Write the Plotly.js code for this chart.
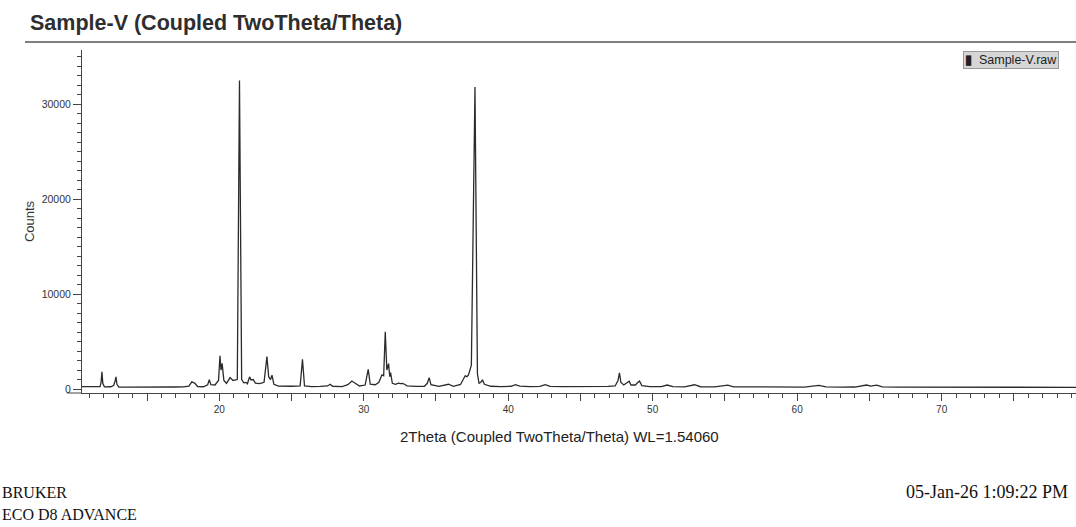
<!DOCTYPE html>
<html>
<head>
<meta charset="utf-8">
<script src="https://cdn.plot.ly/plotly-3.0.1.min.js"></script>
<style>
html,body{margin:0;padding:0;background:#fff;overflow:hidden;}
#chart{width:1076px;height:527px;}
</style>
</head>
<body>
<div id="chart"></div>
<script>
const two_theta = [
10.5,11.0,11.5,11.75,11.82,11.88,11.94,12.05,12.5,12.7,12.8,12.85,12.92,13.05,13.6,14.2,14.8,15.5,16.2,16.9,
17.5,17.9,18.1,18.3,18.5,18.9,19.2,19.31,19.42,19.7,19.95,20.05,20.12,20.2,20.32,20.5,20.75,20.95,21.25,21.4,
21.55,21.7,21.85,21.95,22.02,22.1,22.2,22.35,22.5,22.8,23.1,23.3,23.42,23.55,23.65,23.78,24.1,24.6,25.0,25.6,
25.76,25.9,26.4,27.0,27.5,27.68,27.85,28.5,28.9,29.18,29.4,29.7,30.1,30.31,30.45,30.8,31.05,31.26,31.38,31.49,
31.6,31.72,31.8,31.86,31.98,32.2,32.4,32.55,32.7,33.0,33.6,34.2,34.4,34.53,34.65,35.2,35.87,36.2,36.7,36.95,
37.02,37.15,37.25,37.45,37.7,37.87,37.98,38.1,38.22,38.35,38.8,39.5,40.2,40.5,40.8,41.5,42.2,42.56,42.9,43.8,
44.5,45.3,46.2,46.9,47.4,47.6,47.7,47.8,48.0,48.25,48.37,48.5,48.8,48.95,49.09,49.25,49.8,50.6,51.0,51.4,
52.2,52.9,53.3,54.3,55.2,55.6,56.5,57.5,58.5,59.5,60.5,61.5,62.0,63.0,64.0,64.8,65.1,65.5,65.9,67.0,
68.5,70.0,71.5,73.0,74.5,76.0,77.5,79.3
];
const counts = [
260,240,220,260,700,1800,600,230,240,400,900,1280,500,210,190,180,200,170,190,210,
220,300,760,620,260,240,450,970,450,420,900,3490,2000,2700,900,600,1200,900,1000,32500,
1000,650,700,550,900,1280,950,1000,620,560,700,3410,1300,1000,1450,500,310,280,290,340,
3130,330,260,270,320,500,290,260,450,840,600,320,420,2080,500,450,700,1490,1400,6040,
2000,2680,1300,1730,600,500,610,560,600,340,280,290,600,1200,450,280,500,290,480,1200,
1390,1300,1490,2500,31800,1600,600,700,970,500,290,260,290,450,300,260,280,450,270,250,
240,260,250,280,320,900,1700,700,420,650,830,420,420,650,830,360,260,250,420,250,
230,450,240,220,400,230,220,210,200,210,200,380,220,200,210,420,300,400,220,200,
190,200,180,190,180,190,170,180
];

const series_name = "Sample-V.raw";
const x_tick_vals = [15,20,25,30,35,40,45,50,55,60,65,70,75];
const x_tick_text = ["","20","","30","","40","","50","","60","","70",""];
const y_tick_vals = [0,10000,20000,30000];
const y_tick_text = ["0","10000","20000","30000"];

const chartTitle = "Sample-V (Coupled TwoTheta/Theta)";
const xTitle = "2Theta (Coupled TwoTheta/Theta) WL=1.54060";
const yTitle = "Counts";
const footerLeft1 = "BRUKER";
const footerLeft2 = "ECO D8 ADVANCE";
const footerRight = "05-Jan-26 1:09:22 PM";

const W = 1076, H = 527, ML = 82, MR = 0, MT = 50, MB = 134;
const PW = W - ML - MR, PH = H - MT - MB;
const px = v => (v - ML) / PW;
const py = v => (H - MB - v) / PH;

const sans = "Liberation Sans, Arial, sans-serif";
const serif = "Liberation Serif, Times New Roman, serif";

const trace = {
  x: two_theta, y: counts, type: "scatter", mode: "lines",
  name: series_name, showlegend: false,
  line: {color: "#2b2b2b", width: 1.3}
};

const layout = {
  width: W, height: H,
  margin: {l: ML, r: MR, t: MT, b: MB, pad: 0},
  paper_bgcolor: "#fff", plot_bgcolor: "#fff",
  title: {
    text: "<b>" + chartTitle + "</b>",
    x: 30 / W, xanchor: "left", xref: "container",
    y: 1 - 22 / H, yanchor: "middle", yref: "container",
    font: {family: sans, size: 21.5, color: "#2e2e2e"}
  },
  xaxis: {
    range: [10.5, 79.3],
    showgrid: false, zeroline: false,
    showline: true, linecolor: "#444", linewidth: 1,
    ticks: "outside", ticklen: 7, tickwidth: 1, tickcolor: "#444",
    tickmode: "array", tickvals: x_tick_vals, ticktext: x_tick_text,
    tickfont: {family: sans, size: 10, color: "#333"},
    minor: {tickmode: "linear", tick0: 0, dtick: 1, ticks: "outside", ticklen: 4, tickwidth: 1, tickcolor: "#444"},
    fixedrange: true
  },
  yaxis: {
    range: [-420, 35700],
    showgrid: false, zeroline: false,
    showline: true, linecolor: "#444", linewidth: 1,
    ticks: "outside", ticklen: 8, tickwidth: 1, tickcolor: "#444",
    tickmode: "array", tickvals: y_tick_vals, ticktext: y_tick_text,
    tickfont: {family: sans, size: 10.5, color: "#333"},
    minor: {tickmode: "linear", tick0: 0, dtick: 1000, ticks: "outside", ticklen: 4, tickwidth: 1, tickcolor: "#444"},
    title: {text: yTitle, font: {family: sans, size: 13, color: "#333"}, standoff: 4},
    fixedrange: true
  },
  shapes: [
    {type: "line", xref: "paper", yref: "paper", x0: px(25), x1: 1.02, y0: py(42), y1: py(42),
     line: {color: "#555", width: 1.5}},
    {type: "line", xref: "paper", yref: "paper", x0: px(67), x1: 0, y0: 0, y1: 0,
     line: {color: "#444", width: 1}}
  ],
  annotations: [
    {text: "<b>▮</b>  " + series_name, xref: "paper", yref: "paper", x: px(963), y: py(60),
     xanchor: "left", yanchor: "middle", showarrow: false,
     font: {family: sans, size: 12.5, color: "#222"},
     bgcolor: "#d6d6d6", bordercolor: "#9a9a9a", borderwidth: 1, borderpad: 1},
    {text: xTitle, xref: "paper", yref: "paper", x: px(559), y: py(436),
     xanchor: "center", yanchor: "middle", showarrow: false,
     font: {family: sans, size: 15, color: "#222"}},
    {text: footerLeft1, xref: "paper", yref: "paper", x: px(0), y: py(492),
     xanchor: "left", yanchor: "middle", showarrow: false,
     font: {family: serif, size: 16, color: "#111"}},
    {text: footerLeft2, xref: "paper", yref: "paper", x: px(0), y: py(514),
     xanchor: "left", yanchor: "middle", showarrow: false,
     font: {family: serif, size: 16, color: "#111"}},
    {text: footerRight, xref: "paper", yref: "paper", x: px(904), y: py(492),
     xanchor: "left", yanchor: "middle", showarrow: false,
     font: {family: serif, size: 18, color: "#111"}}
  ]
};

Plotly.newPlot("chart", [trace], layout, {staticPlot: true, displayModeBar: false});
</script>
</body>
</html>
